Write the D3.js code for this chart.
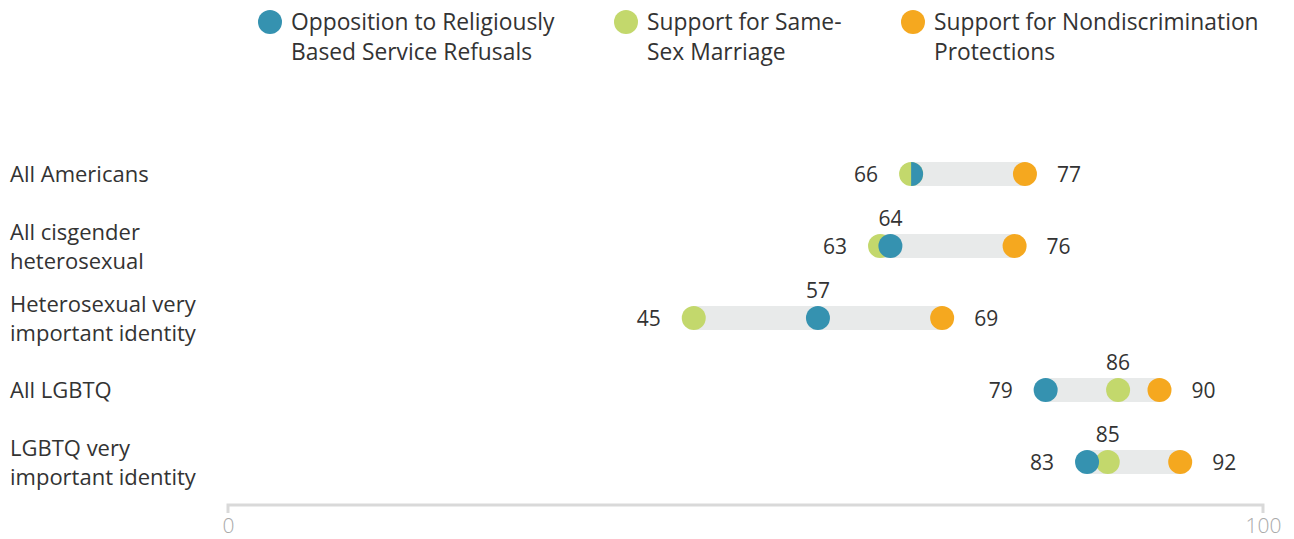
<!DOCTYPE html>
<html><head><meta charset="utf-8">
<script src="https://cdn.jsdelivr.net/npm/d3@7"></script>
<style>
body{margin:0;background:#fff;}
text{font-family:"Open Sans",sans-serif;}
</style></head>
<body>
<svg id="chart" width="1294" height="539"></svg>
<script>
const categories = [
  ["All Americans"],
  ["All cisgender", "heterosexual"],
  ["Heterosexual very", "important identity"],
  ["All LGBTQ"],
  ["LGBTQ very", "important identity"]
];
const seriesNames = [
  ["Opposition to Religiously", "Based Service Refusals"],
  ["Support for Same-", "Sex Marriage"],
  ["Support for Nondiscrimination", "Protections"]
];
const opposition = [66, 64, 57, 79, 83];
const sameSex = [66, 63, 45, 86, 85];
const nondiscrim = [77, 76, 69, 90, 92];
const axisTicks = [0, 100];
const colors = ["#3592b0", "#c3d86c", "#f5a81f"];

const svg = d3.select("#chart");
const x = d3.scaleLinear().domain([0, 100]).range([228, 1263]);
const y = d3.scalePoint().domain(d3.range(categories.length)).range([174, 462]);
const R = 12;

// legend
const legX = [270, 626, 913];
seriesNames.forEach((name, i) => {
  const g = svg.append("g").attr("transform", `translate(${legX[i]},22)`);
  g.append("circle").attr("r", R).attr("fill", colors[i]);
  g.append("text").attr("x", 21).attr("y", 8).attr("font-size", 22.8).attr("fill", "#333")
    .selectAll("tspan").data(name).join("tspan")
    .attr("x", 21).attr("dy", (d, j) => j === 0 ? 0 : 30).text(d => d);
});

// category labels
categories.forEach((lines, i) => {
  const t = svg.append("text").attr("x", 10).attr("font-size", 22).attr("fill", "#333")
    .attr("y", y(i) + 8 - (lines.length - 1) * 14.5);
  t.selectAll("tspan").data(lines).join("tspan")
    .attr("x", 10).attr("dy", (d, j) => j === 0 ? 0 : 29).text(d => d);
});

// axis
const axisY = 505;
const axis = d3.axisBottom(x).tickValues(axisTicks).tickSize(10).tickPadding(6).tickFormat(d3.format("d"));
const ag = svg.append("g").attr("transform", `translate(0,${axisY})`).call(axis);
ag.select(".domain").attr("stroke", "#d9d9d9").attr("stroke-width", 3).attr("d", `M${x(0)},8V0H${x(100)}V8`);
ag.selectAll(".tick line").remove();
ag.selectAll(".tick text").attr("font-size", 21).attr("font-weight", 300).attr("fill", "#aaa")
  .attr("font-family", "'Open Sans',sans-serif").attr("dy", "0.55em");

// rows
const arcRight = d3.arc().innerRadius(0).outerRadius(R).startAngle(0).endAngle(Math.PI);
categories.forEach((c, i) => {
  const vals = [opposition[i], sameSex[i], nondiscrim[i]];
  const mn = d3.min(vals), mx = d3.max(vals);
  const cy = y(i);
  svg.append("rect").attr("x", x(mn)).attr("width", x(mx) - x(mn))
    .attr("y", cy - R).attr("height", 2 * R).attr("fill", "#e8eaea");
  const order = [1, 0, 2];
  order.forEach(k => {
    const dup = vals.findIndex((v, j) => j !== k && v === vals[k]);
    if (k === 0 && dup === 1) {
      svg.append("path").attr("d", arcRight()).attr("transform", `translate(${x(vals[k])},${cy})`).attr("fill", colors[k]);
    } else {
      svg.append("circle").attr("cx", x(vals[k])).attr("cy", cy).attr("r", R).attr("fill", colors[k]);
    }
  });
  // labels
  svg.append("text").attr("x", x(mn) - 33).attr("y", cy + 8).attr("text-anchor", "end")
    .attr("font-size", 21).attr("fill", "#333").text(mn);
  svg.append("text").attr("x", x(mx) + 32).attr("y", cy + 8).attr("text-anchor", "start")
    .attr("font-size", 21).attr("fill", "#333").text(mx);
  const mids = vals.filter(v => v !== mn && v !== mx);
  mids.forEach(v => {
    svg.append("text").attr("x", x(v)).attr("y", cy - 20).attr("text-anchor", "middle")
      .attr("font-size", 21).attr("fill", "#333").text(v);
  });
});
</script>
</body></html>
